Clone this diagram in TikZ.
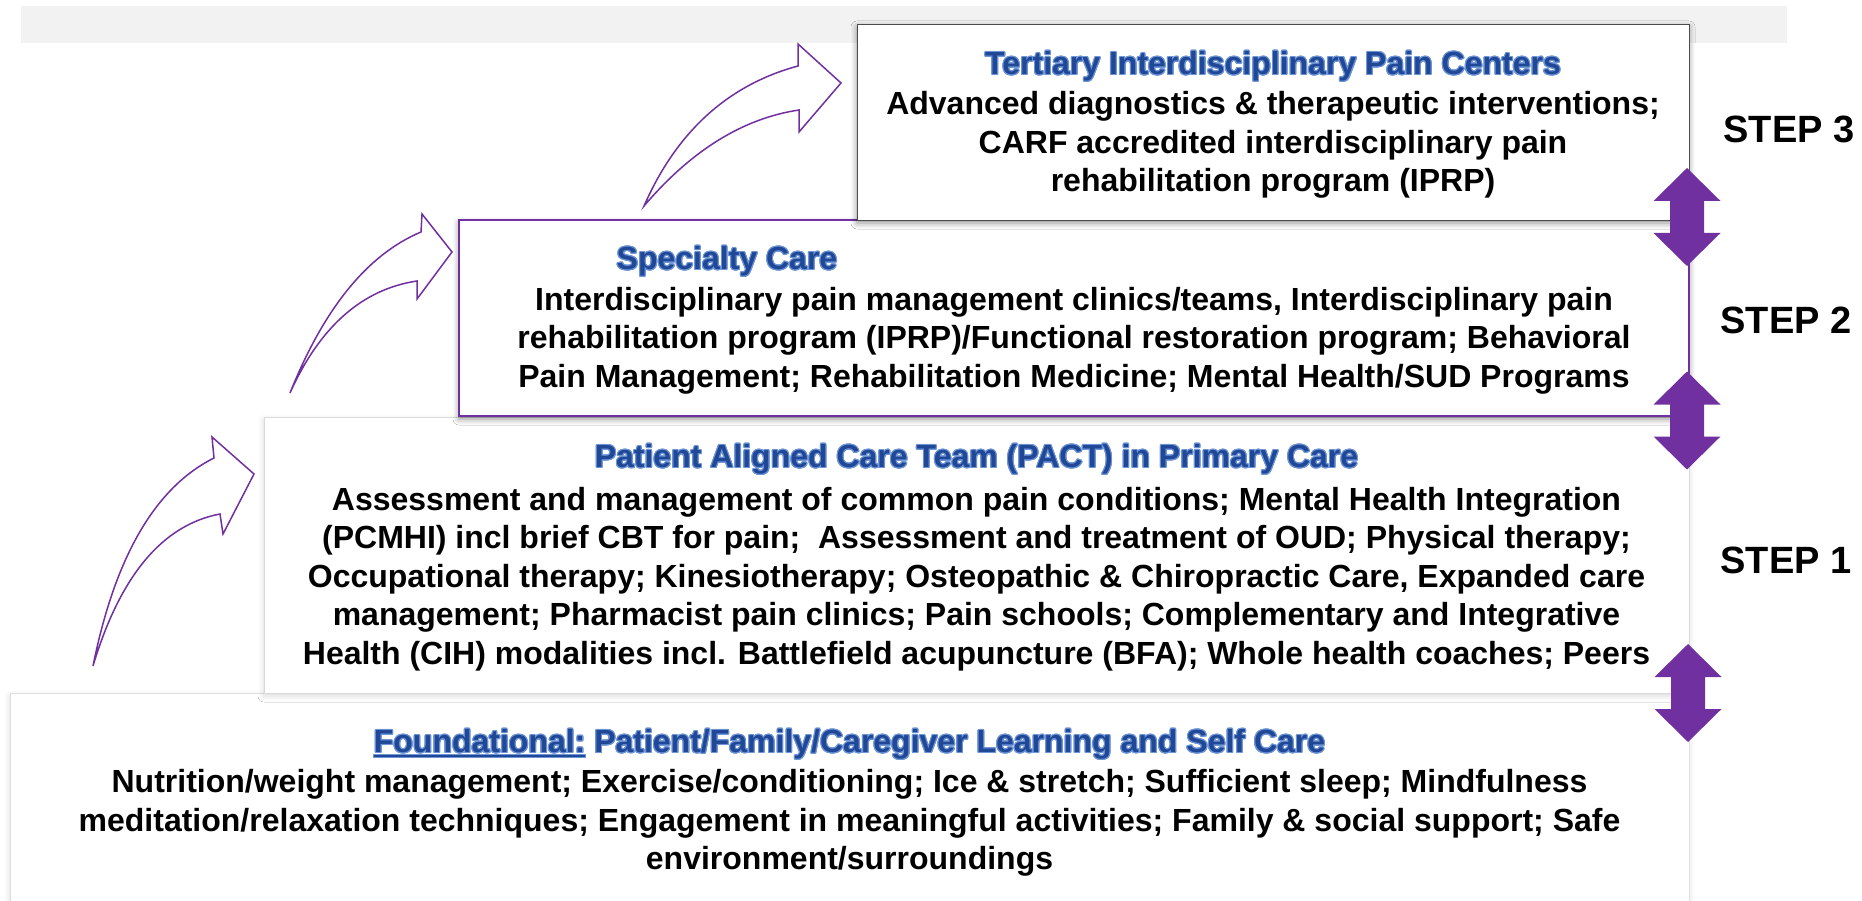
\documentclass[tikz,border=0pt]{standalone}
\usepackage{fontspec}
\setmainfont{Liberation Sans}
\usepackage{contour}
\usetikzlibrary{positioning,shadows.blur}

\definecolor{steppurple}{RGB}{112,48,160}
\definecolor{headblue}{RGB}{33,72,150}
\definecolor{headglow}{RGB}{110,150,215}
\definecolor{bandgray}{RGB}{242,242,242}
\contourlength{1.1pt}
\newcommand\lineunder[1]{\setbox0\hbox{#1}\rlap{\rule[-4.5pt]{\wd0}{2.4pt}}\box0\relax}

\tikzset{
  tier/.style={fill=white,inner sep=0pt,blur shadow={shadow xshift=0pt,shadow yshift=-3pt,shadow blur radius=6pt,shadow opacity=#1}},
  tier/.default=45,
  head/.style={font=\bfseries\fontsize{32}{38.5}\selectfont,text=headblue,inner sep=0pt},
  body/.style={font=\bfseries\fontsize{32}{38.5}\selectfont,align=center,inner sep=0pt},
  stepmark/.style={font=\bfseries\fontsize{38}{44}\selectfont,inner sep=0pt},
  climb/.style={draw=steppurple,line width=1.5pt},
  updown/.pic={\fill[steppurple] (0,-49)--(33.5,-16)--(17,-16)--(17,16)--(33.5,16)--(0,49)
    --(-33.5,16)--(-17,16)--(-17,-16)--(-33.5,-16)--cycle;}
}

\begin{document}
\begin{tikzpicture}[x=1pt,y=-1pt]
	\useasboundingbox (0,0) rectangle (1862,901);
	\fill[bandgray] (21,6) rectangle (1787,43);

	\node [tier=15,draw=black!12,minimum width=1679pt,minimum height=260pt] (found) at (849.5,823) {};
	\node [tier=15,draw=black!15,minimum width=1425pt,minimum height=276pt] (pact)  at (976.5,555) {};
	\node [tier,draw=steppurple,line width=2pt,minimum width=1230pt,minimum height=196pt] (spec) at (1074,318) {};
	\node [tier,draw=black!70,minimum width=832pt,minimum height=196pt] (tert) at (1273,122) {};

	\node [head] (terthead)  at (tert |- 0,67)  {\contour{headglow}{Tertiary Interdisciplinary Pain Centers}};
	\node [body] (tertbody)  at (tert |- 0,145) {Advanced diagnostics \& therapeutic interventions;\\
		CARF accredited interdisciplinary pain\\ rehabilitation program (IPRP)};

	\node [head] (spechead)  at (727,262)       {\contour{headglow}{Specialty Care}};
	\node [body] (specbody)  at (spec |- 0,340.5) {Interdisciplinary pain management clinics/teams, Interdisciplinary pain\\
		rehabilitation program (IPRP)/Functional restoration program; Behavioral\\
		Pain Management; Rehabilitation Medicine; Mental Health/SUD Programs};

	\node [head] (pacthead)  at (pact |- 0,460) {\contour{headglow}{Patient Aligned Care Team (PACT) in Primary Care}};
	\node [body] (pactbody)  at (pact |- 0,579) {Assessment and management of common pain conditions; Mental Health Integration\\
		(PCMHI) incl brief CBT for pain; \ Assessment and treatment of OUD; Physical therapy;\\
		Occupational therapy; Kinesiotherapy; Osteopathic \& Chiropractic Care, Expanded care\\
		management; Pharmacist pain clinics; Pain schools; Complementary and Integrative\\
		Health (CIH) modalities incl. Battlefield acupuncture (BFA); Whole health coaches; Peers};

	\node [head] (foundhead) at (found |- 0,745) {\contour{headglow}{\lineunder{Foundational:}} \contour{headglow}{Patient/Family/Caregiver Learning and Self Care}};
	\node [body] (foundbody) at (found |- 0,823) {Nutrition/weight management; Exercise/conditioning; Ice \& stretch; Sufficient sleep; Mindfulness\\
		meditation/relaxation techniques; Engagement in meaningful activities; Family \& social support; Safe\\
		environment/surroundings};

	\node [stepmark] (step3) at (1789,129) {STEP 3};
	\node [stepmark] (step2) at (1786,320) {STEP 2};
	\node [stepmark] (step1) at (1786,560) {STEP 1};

	\pic at (1687,217)   {updown};
	\pic at (1687,420.5) {updown};
	\pic at (1688,693)   {updown};

	\draw [climb] (93,666) .. controls (115,556.7) and (155.3,487.3) .. (214,458) -- (212,437) -- (254,474)
		-- (223,534) -- (220,514) .. controls (162.5,524.9) and (120.1,575.6) .. (93,666) -- cycle;
	\draw [climb] (290,393) .. controls (324,308) and (367.7,254.4) .. (421,232) -- (422,214) -- (452,252)
		-- (417,299) -- (417,281) .. controls (362.3,289.2) and (319.9,326.5) .. (290,393) -- cycle;
	\draw [climb] (644,206) .. controls (676.7,131.5) and (728.1,84.9) .. (798,66) -- (798,44) -- (841,83)
		-- (799,132) -- (799,110) .. controls (742.9,118.4) and (691.3,150.4) .. (644,206) -- cycle;
\end{tikzpicture}
\end{document}
